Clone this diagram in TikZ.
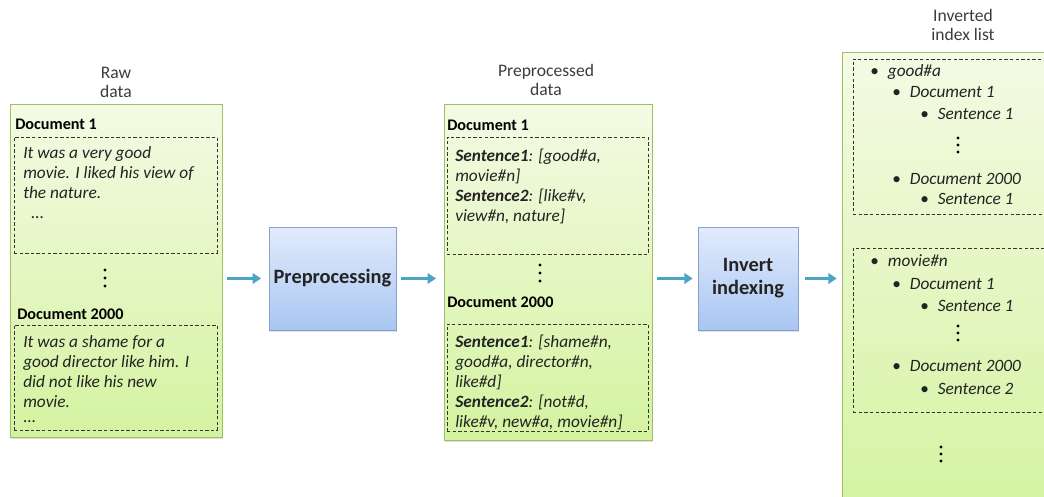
\documentclass[tikz,border=0pt]{standalone}
\usepackage{fontspec}
\setmainfont{Carlito}
\usetikzlibrary{
    arrows.meta,
    positioning,
    fit,
    shadows
}
\definecolor{boxGreen}{RGB}{160,190,100}
\definecolor{fillTop}{RGB}{244,250,228}
\definecolor{fillBot}{RGB}{212,243,160}
\definecolor{procTop}{RGB}{226,235,251}
\definecolor{procBot}{RGB}{168,198,242}
\definecolor{procLine}{RGB}{135,160,205}
\definecolor{flowTeal}{RGB}{75,165,195}
\definecolor{capGray}{RGB}{60,60,60}
\definecolor{txtGray}{RGB}{35,35,35}
\tikzset{
  databox/.style  = {draw=boxGreen, top color=fillTop, bottom color=fillBot,
                     inner sep=0pt, drop shadow={opacity=0.25,
                     shadow xshift=0.8pt, shadow yshift=-1.2pt}},
  procbox/.style  = {draw=procLine, top color=procTop, bottom color=procBot,
                     inner sep=0pt, drop shadow={opacity=0.25,
                     shadow xshift=0.8pt, shadow yshift=-1.2pt}},
  proctxt/.style  = {align=center, text=txtGray, inner sep=0pt,
                     font=\fontsize{14.5}{16.4}\selectfont\bfseries},
  dashbox/.style  = {draw=black!80, dash pattern=on 2.4pt off 1.6pt,
                     inner sep=0pt, line width=0.5pt},
  doctitle/.style = {anchor=base west, inner sep=0pt, text=black,
                     font=\fontsize{11.5}{14}\selectfont\bfseries},
  bodytxt/.style  = {anchor=north west, inner sep=0pt, align=left, text=txtGray,
                     font=\fontsize{12.3}{14.2}\selectfont\itshape},
  listtxt/.style  = {anchor=base west, inner sep=0pt, text=txtGray,
                     font=\fontsize{12.3}{14}\selectfont\itshape},
  capt/.style     = {align=center, text=capGray, inner sep=0pt,
                     font=\fontsize{12.5}{13.5}\selectfont},
  flow/.style     = {-{Triangle[length=6pt,width=7.5pt]}, line width=2.6pt,
                     flowTeal}
}
\newcommand{\lb}{\makebox[12.5pt][l]{\upshape\textbullet}}

\begin{document}
\begin{tikzpicture}[x=0.025cm, y=-0.025cm]
\useasboundingbox (0,0) rectangle (1044,496);
% outer boxes
\node[databox, fit={(10,104) (222,437)}] (raw) {};
\node[databox, fit={(444,104) (652,440)}] (prep) {};
\node[databox, fit={(842,52) (1090,520)}] (inx) {};
\node[procbox, fit={(269,227) (396,330)}] (pre) {};
\node[procbox, fit={(698,227) (798,330)}] (inv) {};
\node[proctxt] (pretxt) at (pre.center) {Preprocessing};
\node[proctxt] (invtxt) at (inv.center) {Invert\\indexing};
% captions
\node[capt] (rawcap) at (116,82) {Raw\\data};
\node[capt] (prepcap) at (546,80) {Preprocessed\\data};
\node[capt] (inxcap) at (963,25) {Inverted\\index list};
% raw data
\node[doctitle] (rd1) at (15,129) {Document 1};
\node[dashbox, fit={(14,137) (217,253)}] (rb1) {};
\node[bodytxt] (rt1) at (23,146) {It was a very good\\movie. I liked his view of\\the nature.\\\ \ ...};
\node[doctitle] (rd2) at (17,319) {Document 2000};
\node[dashbox, fit={(14,325) (217,430)}] (rb2) {};
\node[bodytxt] (rt2) at (23,335) {It was a shame for a\\good director like him. I\\did not like his new\\movie.\\[-3pt]...};
\foreach \d in {-8,0,8} \fill (105,278+\d) circle (1.1pt);
% preprocessed data
\node[doctitle] (pd1) at (447,130) {Document 1};
\node[dashbox, fit={(447,137) (648,254)}] (pb1) {};
\node[bodytxt] (pt1) at (455,149) {\textbf{Sentence1}: [good\#a,\\movie\#n]\\\textbf{Sentence2}: [like\#v,\\view\#n, nature]};
\node[doctitle] (pd2) at (447,307) {Document 2000};
\node[dashbox, fit={(447,324) (648,431)}] (pb2) {};
\node[bodytxt] (pt2) at (455,335) {\textbf{Sentence1}: [shame\#n,\\good\#a, director\#n,\\like\#d]\\\textbf{Sentence2}: [not\#d,\\like\#v, new\#a, movie\#n]};
\foreach \d in {-8,0,8} \fill (540,273+\d) circle (1.1pt);
% inverted index list
\node[dashbox, fit={(853,59) (1075,214)}] (ib1) {};
\node[dashbox, fit={(853,248) (1075,412)}] (ib2) {};
\foreach \y/\x/\t [count=\i] in {76/870/good\#a, 97/892/Document 1,
    119/920/Sentence 1, 184/892/Document 2000, 204/920/Sentence 1,
    266/870/movie\#n, 289/892/Document 1, 311/920/Sentence 1,
    371/892/Document 2000, 394/920/Sentence 2}
  \node[listtxt] (il\i) at (\x,\y) {\lb\t};
\foreach \d in {-7,0,7} {
  \fill (958,145+\d) circle (1.1pt);
  \fill (958,333+\d) circle (1.1pt);
  \fill (941,454+\d) circle (1.1pt);
}
% flow
\draw[flow, shorten <=3.5pt, shorten >=5.5pt] (raw.east |- pre.west) -- (pre.west);
\draw[flow, shorten <=3pt, shorten >=5.5pt] (pre.east) -- (prep.west |- pre.east);
\draw[flow, shorten <=3.5pt, shorten >=3.5pt] (prep.east |- inv.west) -- (inv.west);
\draw[flow, shorten <=5pt, shorten >=3.5pt] (inv.east) -- (inx.west |- inv.east);
\end{tikzpicture}
\end{document}
